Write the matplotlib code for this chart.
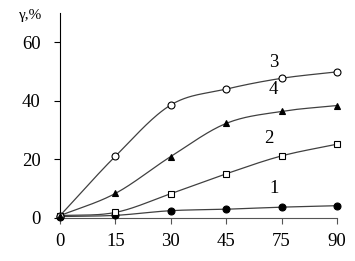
import numpy as np
import matplotlib
matplotlib.use("Agg")
import matplotlib.pyplot as plt

categories = ["0", "15", "30", "45", "75", "90"]
s1 = [0.5, 0.9, 2.5, 3.0, 3.7, 4.2]
s2 = [0.8, 1.9, 8.3, 15.1, 21.2, 25.2]
s3 = [0.8, 21.1, 38.6, 44.0, 47.7, 49.9]
s4 = [0.8, 8.4, 21.0, 32.3, 36.4, 38.4]
yticks = [0, 20, 40, 60]

plt.rcParams['font.family'] = ['Liberation Serif', 'DejaVu Serif']

def smooth(x, y, n=30, t=0.5):
    x = np.asarray(x, float); y = np.asarray(y, float)
    P = np.column_stack([x, y])
    P = np.vstack([P[0] - (P[1] - P[0]), P, P[-1] + (P[-1] - P[-2])])
    out = []
    for i in range(1, len(P) - 2):
        p0, p1, p2, p3 = P[i-1], P[i], P[i+1], P[i+2]
        m1 = (p2 - p0) * t
        m2 = (p3 - p1) * t
        s = np.linspace(0, 1, n)[:, None]
        h00 = 2*s**3 - 3*s**2 + 1
        h10 = s**3 - 2*s**2 + s
        h01 = -2*s**3 + 3*s**2
        h11 = s**3 - s**2
        out.append(h00*p1 + h10*m1 + h01*p2 + h11*m2)
    return np.vstack(out)

fig = plt.figure(figsize=(3.55, 2.61), dpi=100)
ax = fig.add_axes([60/355, 1-218/261, (337-60)/355, (218-13)/261])
x = np.arange(len(categories))

def draw(y, marker, mfc, ms):
    c = smooth(x, y)
    ax.plot(c[:, 0], c[:, 1], color='#404040', lw=0.9, zorder=2, clip_on=False)
    ax.plot(x, y, ls='none', marker=marker, mfc=mfc, mec='black', mew=0.8,
            ms=ms, zorder=3, clip_on=False)

draw(s1, 'o', 'black', 5)
draw(s2, 's', 'white', 4.8)
draw(s3, 'o', 'white', 5)
draw(s4, '^', 'black', 5)

ax.set_xlim(0, 5)
ax.set_ylim(0, 70)
ax.set_xticks(x)
ax.set_xticklabels(categories)
ax.set_yticks(yticks)
for sp in ['top', 'right']:
    ax.spines[sp].set_visible(False)
ax.spines['left'].set_color('black')
ax.spines['bottom'].set_color('#555555')
ax.tick_params(axis='both', direction='out', length=4, width=0.8, labelsize=13.5)
ax.tick_params(axis='x', color='#555555', pad=7)
ax.tick_params(axis='y', pad=10)

ax.text(3.85, 51.5, "3", fontsize=13.5, ha='center')
ax.text(3.85, 42.3, "4", fontsize=13.5, ha='center')
ax.text(3.77, 25.5, "2", fontsize=13.5, ha='center')
ax.text(3.87, 8.7, "1", fontsize=13.5, ha='center')

fig.text(19/355, 1-19/261, "γ,%", fontsize=11)

fig.savefig("out.png", dpi=100)
